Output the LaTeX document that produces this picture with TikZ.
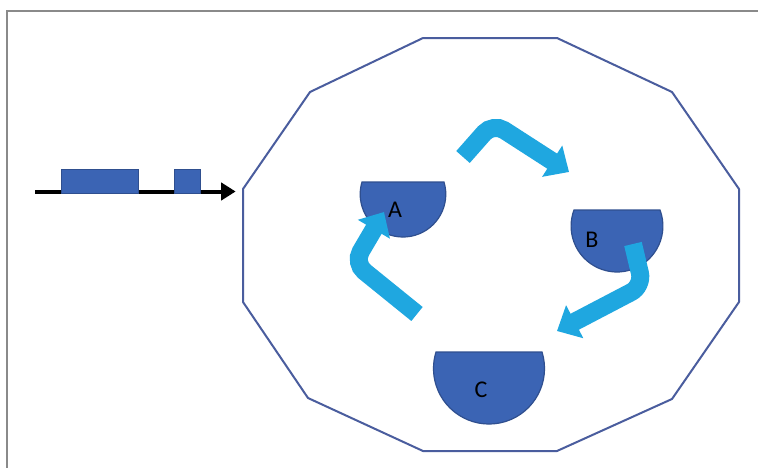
\documentclass[tikz,border=0pt]{standalone}
\usepackage{fontspec}
\setmainfont{Carlito}
\usetikzlibrary{arrows.meta}
\definecolor{shapeblue}{HTML}{3B64B4}
\definecolor{shapeedge}{HTML}{2F4F8F}
\definecolor{arrowblue}{HTML}{1FA7E0}
\definecolor{polyedge}{HTML}{4A5D9E}
\definecolor{framegray}{HTML}{8A8A8A}
\begin{document}
\begin{tikzpicture}[x=0.75pt,y=-0.75pt,
  cell/.style={fill=shapeblue,draw=shapeedge,line width=0.9pt},
  blk/.style={fill=shapeblue,draw=shapeedge,line width=0.6pt},
  flow/.style={draw=arrowblue,line width=13.5pt,line cap=butt,rounded corners=10pt,
    -{Triangle[length=15pt,width=27pt]}},
  lab/.style={font=\fontsize{18}{21}\selectfont,text=black,inner sep=0pt},
  wall/.style={draw=polyedge,line width=1.5pt,line join=round},
  frame/.style={draw=framegray,line width=1.4pt}]
\useasboundingbox[fill=white] (0,0) rectangle (758,468);
% frame
\draw[frame] (7,468) -- (7,11) -- (758,11);
% vessel (dodecagon)
\draw[wall] (423,38) -- (557,38) -- (672,92) -- (739,189) -- (739,302) -- (672,399)
  -- (557,451) -- (423,451) -- (308,398) -- (243,302) -- (243,189) -- (310,92) -- cycle;
\coordinate (inlet) at (243,191.5);
\coordinate (feed) at (35,191.5);
% incoming line with blocks
\draw[line width=3pt,-{Triangle[length=11pt,width=13pt]}] (feed) -- ([xshift=-5.5pt]inlet);
\draw[blk] (61,169) rectangle (138,193);
\draw[blk] (174,169) rectangle (200,193);
% half-disc cells
\draw[cell] (444,182) arc[start angle=16.6,end angle=-196.6,radius=32.09pt] -- cycle;
\draw[cell] (660,210) arc[start angle=20.5,end angle=-200.5,radius=34.43pt] -- cycle;
\draw[cell] (542,352) arc[start angle=17.3,end angle=-197.3,radius=41.63pt] -- cycle;
\node[lab] (A) at (395,210) {A};
\node[lab] (B) at (592,240) {B};
\node[lab] (C) at (481,390) {C};
% circulating arrows
\coordinate (t1) at (463,157); \coordinate (k1) at (493,123); \coordinate (h1) at (569,172);
\coordinate (t2) at (417,314); \coordinate (k2) at (354,263); \coordinate (h2) at (384,212);
\coordinate (t3) at (633,244); \coordinate (k3) at (643,286); \coordinate (h3) at (557,331);
\draw[flow] (t1) -- (k1) -- (h1);
\draw[flow] (t2) -- (k2) -- (h2);
\draw[flow] (t3) -- (k3) -- (h3);
\end{tikzpicture}
\end{document}
